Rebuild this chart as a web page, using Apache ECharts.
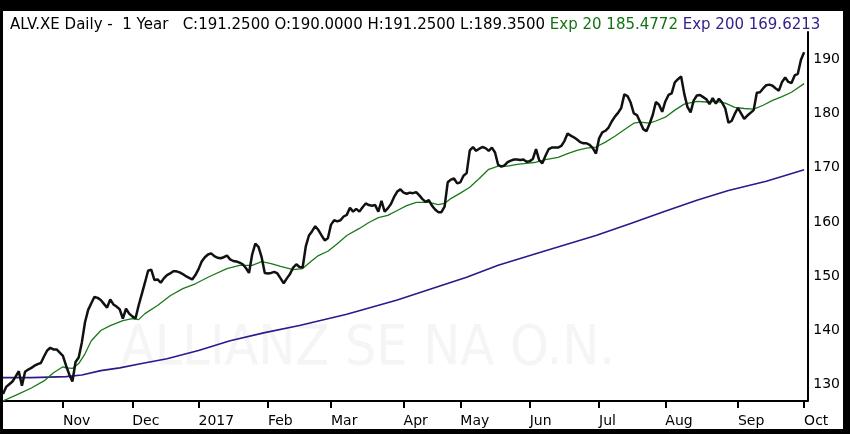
<!DOCTYPE html>
<html>
<head>
<meta charset="utf-8">
<title>ALV.XE Daily</title>
<script src="https://cdn.jsdelivr.net/npm/echarts@6.0.0/dist/echarts.min.js"></script>
<style>
  html, body { margin: 0; padding: 0; background: #000; }
  #chart { position: absolute; left: 3px; top: 11px; width: 840px; height: 418px; background: #fff; }
</style>
</head>
<body>
<div id="chart"></div>
<script>
// header quote
var symbolName = 'ALV.XE Daily -  1 Year';
var quote = ['C:191.2500', 'O:190.0000', 'H:191.2500', 'L:189.3500'];
var ema20Label = 'Exp 20 185.4772';
var ema200Label = 'Exp 200 169.6213';
var watermark = 'ALLIANZ SE NA O.N.';

// Xetra closed days in the period
var holidays = ['2016-12-26', '2017-04-14', '2017-04-17', '2017-05-01'];
var monthNames = ['Jan', 'Feb', 'Mar', 'Apr', 'May', 'Jun', 'Jul', 'Aug', 'Sep', 'Oct', 'Nov', 'Dec'];

// daily close, 2016-10-05 .. 2017-10-02
var closeVals = [
  128.3, 129.6, 130.1, 130.6, 131.5, 132.5, 129.8, 132.4, 132.8, 133.1,
  133.5, 133.8, 134.0, 135.2, 136.3, 136.8, 136.5, 136.5, 135.9, 135.3,
  133.5, 131.9, 130.6, 134.2, 135.0, 137.8, 141.5, 143.8, 145.0, 146.2,
  146.0, 145.6, 144.9, 144.2, 145.7, 144.8, 144.4, 143.9, 142.2, 144.0,
  143.1, 142.6, 142.2, 144.6, 146.7, 148.8, 151.0, 151.2, 149.3, 149.4,
  148.8, 149.6, 150.2, 150.5, 150.9, 150.9, 150.7, 150.4, 150.0, 149.7,
  149.4, 150.2, 151.3, 152.7, 153.5, 154.0, 154.2, 153.7, 153.4, 153.3,
  153.5, 153.8, 153.1, 152.8, 152.7, 152.5, 152.2, 151.5, 150.6, 154.0,
  156.0, 155.4, 153.5, 150.6, 150.5, 150.6, 150.8, 150.5, 149.6, 148.7,
  149.6, 150.4, 151.6, 152.2, 151.7, 151.6, 155.5, 157.5, 158.3, 159.2,
  158.5, 157.5, 156.6, 157.0, 159.5, 160.3, 160.1, 160.3, 161.0, 161.3,
  162.6, 161.9, 162.4, 161.9, 162.7, 163.4, 163.1, 163.0, 163.1, 161.9,
  163.9, 161.9, 162.5, 163.3, 164.6, 165.6, 166.0, 165.4, 165.2, 165.4,
  165.3, 165.5, 164.9, 164.2, 163.7, 164.0, 163.0, 162.3, 161.8, 161.8,
  162.8, 167.3, 167.8, 168.0, 167.1, 167.3, 168.5, 169.0, 173.2, 173.8,
  173.1, 173.5, 173.8, 173.6, 173.1, 173.7, 172.8, 170.5, 170.2, 170.4,
  171.0, 171.3, 171.5, 171.5, 171.4, 171.5, 171.1, 171.2, 171.6, 173.4,
  171.4, 170.8, 172.2, 173.4, 173.7, 173.7, 173.7, 174.0, 174.9, 176.3,
  175.9, 175.6, 175.2, 174.7, 174.5, 174.5, 174.2, 173.6, 172.6, 175.4,
  176.5, 176.8, 177.4, 178.5, 179.4, 180.1, 181.0, 183.5, 183.2, 182.0,
  180.0, 179.7, 178.4, 177.1, 176.7, 178.1, 179.7, 182.1, 181.6, 180.3,
  182.2, 183.4, 183.7, 185.7, 186.3, 186.8, 183.6, 181.2, 180.2, 182.4,
  183.3, 183.4, 183.0, 182.6, 181.7, 182.8, 181.8, 182.7, 182.0, 180.9,
  178.3, 178.6, 179.9, 181.0, 180.0, 179.0, 179.6, 180.1, 180.6, 183.8,
  183.9, 184.6, 185.2, 185.3, 185.1, 184.6, 184.2, 185.8, 186.6, 185.8,
  185.6, 187.0, 187.3, 189.9, 191.25
];

// [trading day index, value] read along the averages
var ema20Pts = [
  [0, 127.0], [5, 128.3], [9, 129.4], [13, 130.7], [16, 132.2], [19, 133.3],
  [20, 133.1], [22, 133.0], [24, 133.9], [26, 135.7], [28, 138.1], [31, 140.0],
  [34, 140.9], [38, 141.8], [41, 142.2], [43, 142.0], [45, 143.1], [49, 144.6],
  [53, 146.4], [57, 147.7], [61, 148.6], [65, 149.8], [71, 151.4], [75, 152.0],
  [79, 152.0], [82, 152.7], [85, 152.3], [88, 151.8], [92, 151.2], [95, 151.4],
  [98, 152.9], [100, 153.8], [103, 154.6], [106, 156.0], [109, 157.5], [113, 158.8],
  [116, 159.9], [119, 160.8], [122, 161.2], [125, 162.1], [128, 163.0], [131, 163.6],
  [135, 163.6], [138, 163.2], [140, 163.4], [142, 164.3], [145, 165.3], [148, 166.4],
  [151, 168.0], [154, 169.7], [157, 170.3], [160, 170.3], [163, 170.6], [166, 170.8],
  [169, 171.0], [172, 171.5], [176, 171.9], [179, 172.6], [182, 173.2], [185, 173.6],
  [188, 173.8], [191, 174.7], [194, 175.8], [198, 177.4], [200, 178.2], [202, 178.4],
  [205, 178.2], [207, 178.6], [210, 179.3], [213, 180.6], [216, 181.7], [220, 182.2],
  [223, 182.1], [226, 182.2], [229, 181.9], [232, 181.1], [235, 180.9], [238, 180.8],
  [241, 181.5], [244, 182.4], [247, 183.1], [250, 183.9], [254, 185.48]
];
var ema200Pts = [
  [0, 131.3], [9, 131.3], [20, 131.5], [25, 131.8], [31, 132.6], [37, 133.1],
  [44, 133.9], [52, 134.8], [62, 136.3], [72, 138.1], [83, 139.6], [94, 140.9],
  [109, 143.0], [125, 145.6], [139, 148.3], [147, 149.8], [157, 152.0], [172, 154.7],
  [188, 157.5], [199, 159.7], [209, 161.8], [220, 164.0], [230, 165.8], [242, 167.5],
  [254, 169.62]
];

function pad(n) { return (n < 10 ? '0' : '') + n; }

// trading days, one spare day at the end so the last close sits off the axis
var days = [];
for (var t = Date.UTC(2016, 9, 5); t <= Date.UTC(2017, 9, 3); t += 86400000) {
  var d = new Date(t);
  var wd = d.getUTCDay();
  var s = d.getUTCFullYear() + '-' + pad(d.getUTCMonth() + 1) + '-' + pad(d.getUTCDate());
  if (wd === 0 || wd === 6 || holidays.indexOf(s) >= 0) continue;
  days.push(s);
}

function monthStart(idx, val) {
  return idx > 0 && days[idx - 1].slice(0, 7) !== val.slice(0, 7);
}

var axisFont = 'DejaVu Sans';
var headStyle = function(color) {
  return { color: color, fontSize: 15, fontWeight: 'normal', fontFamily: axisFont };
};

var option = {
  animation: false,
  title: {
    left: 2,
    top: 2,
    text: '{k|' + symbolName + '   ' + quote.join(' ') + ' }{g|' + ema20Label + ' }{p|' + ema200Label + '}',
    textStyle: {
      fontWeight: 'normal',
      rich: {
        k: headStyle('#000'),
        g: headStyle('#137313'),
        p: headStyle('#35208e')
      }
    }
  },
  graphic: [{
    type: 'text',
    z: -10,
    x: 365,
    y: 339,
    silent: true,
    style: {
      text: watermark,
      fill: '#f5f5f5',
      fontSize: 55,
      fontFamily: "'Liberation Sans Narrow', 'DejaVu Sans Condensed', sans-serif",
      align: 'center',
      verticalAlign: 'middle',
      textAlign: 'center',
      textVerticalAlign: 'middle'
    }
  }],
  grid: {
    left: 0,
    right: 31,
    top: 21,
    bottom: 28
  },
  xAxis: {
    type: 'category',
    data: days,
    boundaryGap: false,
    axisLine: { lineStyle: { color: '#000', width: 2 } },
    axisTick: {
      interval: monthStart,
      length: 7,
      lineStyle: { color: '#000', width: 2 }
    },
    axisLabel: {
      interval: monthStart,
      align: 'left',
      margin: 13,
      color: '#000',
      fontSize: 14,
      fontFamily: axisFont,
      formatter: function(val) {
        var m = parseInt(val.slice(5, 7), 10) - 1;
        return m === 0 ? val.slice(0, 4) : monthNames[m];
      }
    },
    splitLine: { show: false }
  },
  yAxis: {
    type: 'value',
    position: 'right',
    min: 127,
    max: 195,
    interval: 1,
    axisLine: { show: true, lineStyle: { color: '#000', width: 2 } },
    axisTick: { show: false },
    splitLine: { show: false },
    axisLabel: {
      interval: 0,
      margin: 6,
      color: '#000',
      fontSize: 14,
      fontFamily: axisFont,
      formatter: function(v) {
        return Math.abs(v % 10) < 1e-6 ? String(Math.round(v)) : '';
      }
    }
  },
  series: [{
    name: 'Exp 200',
    type: 'line',
    data: ema200Pts,
    symbol: 'none',
    lineStyle: { color: '#2b1a8c', width: 1.6 },
    z: 3
  }, {
    name: 'Exp 20',
    type: 'line',
    data: ema20Pts,
    symbol: 'none',
    lineStyle: { color: '#1a7a1a', width: 1.3 },
    z: 4
  }, {
    name: 'ALV.XE',
    type: 'line',
    data: closeVals,
    symbol: 'none',
    lineStyle: { color: '#111', width: 2.5 },
    z: 5
  }]
};

var myChart = echarts.init(document.getElementById('chart'));
myChart.setOption(option);
</script>
</body>
</html>
